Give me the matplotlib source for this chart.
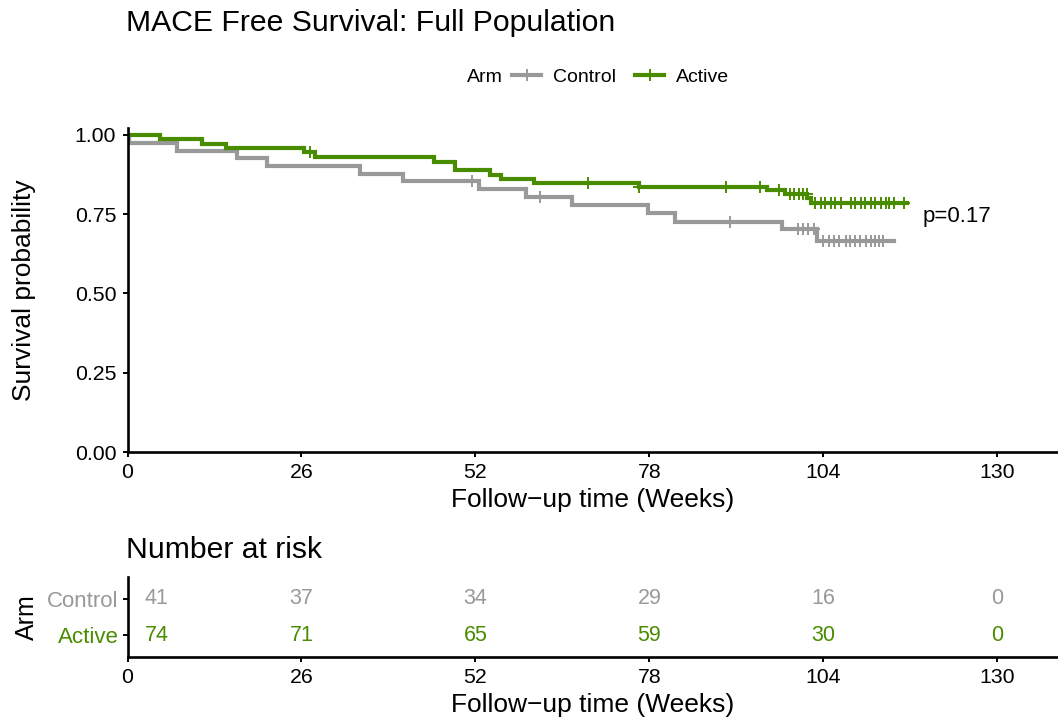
import numpy as np
import matplotlib.pyplot as plt
from matplotlib.lines import Line2D

plt.rcParams['font.family'] = ['Liberation Sans', 'DejaVu Sans']

arms = ['Control', 'Active']
colors = {'Control': '#999999', 'Active': '#4A8C00'}

# Kaplan-Meier steps: week of each drop and survival after it
ctrl_step_t = [0, 0.2, 7.35, 16.4, 20.8, 34.8, 41.2, 52.5, 59.5, 66.4, 77.8, 81.9, 97.9, 103.1]
ctrl_step_s = [1.0, 0.976, 0.951, 0.927, 0.902, 0.878, 0.854, 0.829, 0.804, 0.778, 0.753, 0.727, 0.703, 0.667]
ctrl_end = 114.5
ctrl_cens = [51.5, 61.7, 90.0, 100.2, 100.9, 101.7, 102.6, 104.0, 104.8, 105.6, 106.4, 107.4,
             108.0, 108.7, 109.5, 110.4, 111.1, 111.7, 112.3, 113.0]

act_step_t = [0, 4.8, 11.1, 14.7, 26.4, 28.0, 45.8, 48.9, 54.2, 55.9, 60.7, 76.4, 95.6, 98.3, 101.6, 102.1]
act_step_s = [1.0, 0.986, 0.973, 0.959, 0.946, 0.932, 0.916, 0.889, 0.875, 0.861, 0.848, 0.836,
              0.825, 0.813, 0.800, 0.785]
act_end = 116.5
act_cens = [27.3, 68.8, 76.4, 89.4, 94.6, 97.4, 99.0, 99.7, 100.4, 101.0, 101.5, 102.8, 103.6,
            104.3, 105.1, 105.8, 106.6, 108.1, 108.8, 109.6, 110.3, 111.1, 111.8, 112.6, 113.4,
            113.9, 114.6, 116.0]

curves = {
    'Control': (ctrl_step_t, ctrl_step_s, ctrl_end, ctrl_cens),
    'Active': (act_step_t, act_step_s, act_end, act_cens),
}

# number at risk table
risk_times = [0, 26, 52, 78, 104, 130]
ctrl_risk = [41, 37, 34, 29, 16, 0]
act_risk = [74, 71, 65, 59, 30, 0]
risk = {'Control': ctrl_risk, 'Active': act_risk}

p_text = 'p=0.17'
xticks = [0, 26, 52, 78, 104, 130]
yticks = [0.0, 0.25, 0.5, 0.75, 1.0]

W, H = 1058, 720
fig = plt.figure(figsize=(W / 100, H / 100), dpi=100)

x0 = 127.5 / W
ax = fig.add_axes([x0, 1 - 452 / H, 1 - x0, (452 - 128) / H])
axr = fig.add_axes([x0, 1 - 657 / H, 1 - x0, 80 / H])

lw = 3.0
for arm in arms:
    t, s, end, cens = curves[arm]
    tt = list(t) + [end]
    ss = list(s) + [s[-1]]
    ax.step(tt, ss, where='post', color=colors[arm], lw=lw, solid_joinstyle='miter')
    idx = np.searchsorted(t, cens, side='right') - 1
    cy = np.array(s)[idx]
    ax.plot(cens, cy, ls='none', marker='+', ms=9, mew=1.4, color=colors[arm])

ax.text(118.8, 0.742, p_text, fontsize=16, va='center', ha='left')

for a in (ax, axr):
    a.set_xlim(0, (W - 127.5) / 6.69)
    a.set_xticks(xticks)
    a.set_xticklabels([str(v) for v in xticks])
    for side in ('top', 'right'):
        a.spines[side].set_visible(False)
    for side in ('left', 'bottom'):
        a.spines[side].set_linewidth(1.9)
    a.tick_params(direction='out', length=3.6, width=1.4, labelsize=15.3, pad=4.5)
    a.set_xlabel('Follow\u2212up time (Weeks)', fontsize=19, labelpad=4)

ax.set_ylim(0, 1.022)
ax.set_yticks(yticks)
ax.set_yticklabels(['%.2f' % v for v in yticks])
ax.set_ylabel('Survival probability', fontsize=19, labelpad=28)

# risk table
ypos = {'Control': 2, 'Active': 1}
for arm in arms:
    for i, (t, n) in enumerate(zip(risk_times, risk[arm])):
        off = 21 if i == 0 else 0
        axr.annotate(str(n), (t, ypos[arm]), xytext=(off, 0), textcoords='offset points',
                     ha='center', va='center', fontsize=15.5, color=colors[arm])
axr.set_ylim(0.4, 2.6)
axr.set_yticks([ypos[a] for a in arms])
axr.set_yticklabels(arms, fontsize=16)
axr.tick_params(axis='y', pad=3)
for lab, arm in zip(axr.get_yticklabels(), arms):
    lab.set_color(colors[arm])
axr.set_ylabel('Arm', fontsize=18, labelpad=6)

fig.text(126 / W, 1 - 31 / H, 'MACE Free Survival: Full Population', fontsize=21.7, va='baseline')
fig.text(126 / W, 1 - 558 / H, 'Number at risk', fontsize=21.7, va='baseline')

# legend across the top
fig.text(467 / W, 1 - 77 / H, 'Arm', fontsize=14, va='center', ha='left')
handles = [Line2D([], [], color=colors[a], lw=lw, marker='+', ms=9, mew=1.4) for a in arms]
fig.legend(handles, arms, loc='center left', bbox_to_anchor=(512 / W, 1 - 77 / H), ncol=2,
           frameon=False, fontsize=14, handlelength=1.5, handletextpad=0.6,
           columnspacing=1.0, borderpad=0, borderaxespad=0)

fig.savefig('out.png', dpi=100)
